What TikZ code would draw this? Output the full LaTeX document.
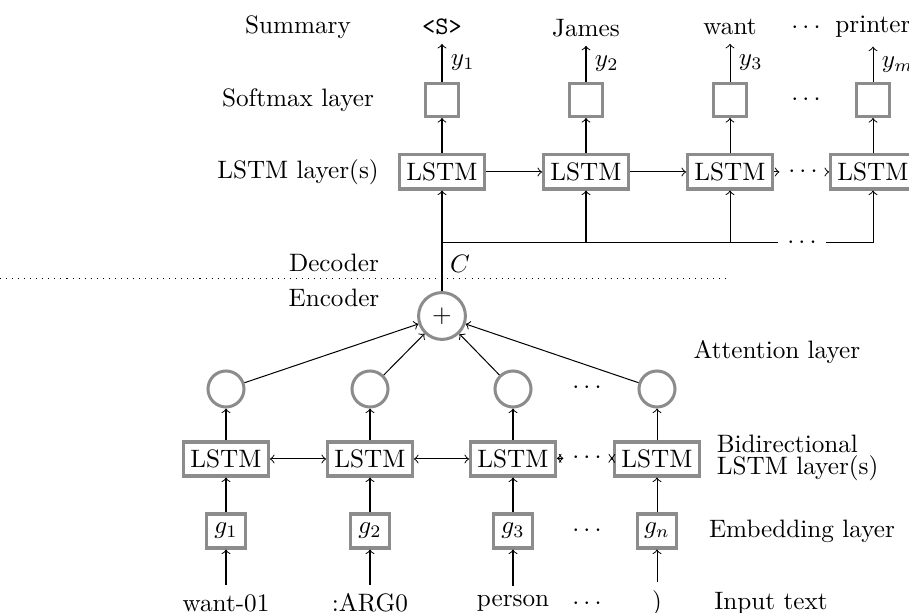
\documentclass[tikz,border=0pt]{standalone}
\begin{document}
\begin{tikzpicture}[x=0.397pt, y=-0.397pt,
  box/.style={draw=black!45, line width=1.2pt, inner sep=1pt},
  lstm/.style={box, minimum width=33.7pt, minimum height=13.5pt},
  smax/.style={box, minimum size=13.1pt},
  emb/.style={box, minimum width=15.5pt, minimum height=13.5pt},
  att/.style={circle, draw=black!45, line width=1.2pt, minimum size=14.3pt, inner sep=0pt},
  plusnode/.style={circle, draw=black!45, line width=1.2pt, minimum size=18.6pt, inner sep=0pt},
  conn/.style={->, line width=0.4pt},
  bi/.style={<->, line width=0.4pt},
  plain/.style={line width=0.4pt}
]
\useasboundingbox (0,0) rectangle (909,613);

% ---------- left labels ----------
\node (lsum) at (298,27) {Summary};
\node (lsm) at (298,100) {Softmax layer};
\node (llstm) at (298,172) {LSTM layer(s)};
\node (ldec) at (334,263) {Decoder};
\node (lenc) at (334,298) {Encoder};

% ---------- summary words ----------
\node (w1) at (442,27) {\texttt{<S>}};
\node (w2) at (586,28) {James};
\node (w3) at (730,27) {want};
\node (wd) at (806,28) {$\cdots$};
\node (w4) at (873,27) {printer};

% ---------- softmax ----------
\node[smax] (s1) at (442,100) {};
\node[smax] (s2) at (586,100) {};
\node[smax] (s3) at (730,100) {};
\node (sd) at (806,100) {$\cdots$};
\node[smax] (s4) at (873,100) {};

% ---------- decoder LSTM ----------
\node[lstm] (d1) at (442,172) {LSTM};
\node[lstm] (d2) at (586,172) {LSTM};
\node[lstm] (d3) at (730,172) {LSTM};
\node (dd) at (803,172) {$\cdots$};
\node[lstm] (d4) at (873,172) {LSTM};

\draw[conn] (d1) -- (s1);
\draw[conn] (d2) -- (s2);
\draw[conn] (d3) -- (s3);
\draw[conn] (d4) -- (s4);
\draw[conn] (s1) -- node[right] {$y_1$} (w1);
\draw[conn] (s2) -- node[right] {$y_2$} (w2);
\draw[conn] (s3) -- node[right] {$y_3$} (w3);
\draw[conn] (s4) -- node[right] {$y_m$} (w4);

\draw[conn] (d1) -- (d2);
\draw[conn] (d2) -- (d3);
\draw[conn] (d3) -- (dd);
\draw[conn] (dd) -- (d4);

% ---------- context distribution ----------
\coordinate (j1) at (442,243);
\coordinate (j2) at (586,243);
\coordinate (j3) at (730,243);
\coordinate (j4) at (873,243);
\node (hd) at (802,243) {$\cdots$};
\draw[plain] (j1) -- (hd);
\draw[plain] (hd) -- (j4);
\draw[conn] (j2) -- (d2);
\draw[conn] (j3) -- (d3);
\draw[conn] (j4) -- (d4);

\node (C) at (460,264) {$C$};
\coordinate (dl) at (0,279);
\coordinate (dr) at (728,279);
\draw[dotted] (dl) -- (dr);

\node[plusnode] (p) at (442,316) {$+$};
\draw[conn] (p) -- (d1);

% ---------- attention ----------
\node[att] (a1) at (226,389) {};
\node[att] (a2) at (370,389) {};
\node[att] (a3) at (513,389) {};
\node (ad) at (587,388) {$\cdots$};
\node[att] (a4) at (657,389) {};
\node (latt) at (777,352) {Attention layer};

\draw[conn] (a1) -- (p);
\draw[conn] (a2) -- (p);
\draw[conn] (a3) -- (p);
\draw[conn] (a4) -- (p);

% ---------- encoder LSTM ----------
\node[lstm] (e1) at (226,459) {LSTM};
\node[lstm] (e2) at (370,459) {LSTM};
\node[lstm] (e3) at (513,459) {LSTM};
\node (ed) at (587,458) {$\cdots$};
\node[lstm] (e4) at (657,459) {LSTM};
\node[align=left, anchor=west] (lbi) at (708,458) {Bidirectional\\[-3.3pt]LSTM layer(s)};

\draw[bi] (e1) -- (e2);
\draw[bi] (e2) -- (e3);
\draw[bi] (e3) -- (ed);
\draw[bi] (ed) -- (e4);
\draw[conn] (e1) -- (a1);
\draw[conn] (e2) -- (a2);
\draw[conn] (e3) -- (a3);
\draw[conn] (e4) -- (a4);

% ---------- embeddings ----------
\node[emb] (g1) at (226,531) {$g_1$};
\node[emb] (g2) at (370,531) {$g_2$};
\node[emb] (g3) at (513,531) {$g_3$};
\node (gd) at (587,531) {$\cdots$};
\node[emb] (g4) at (657,531) {$g_n$};
\node (lemb) at (802,531) {Embedding layer};

\draw[conn] (g1) -- (e1);
\draw[conn] (g2) -- (e2);
\draw[conn] (g3) -- (e3);
\draw[conn] (g4) -- (e4);

% ---------- input ----------
\node (i1) at (226,603) {want-01};
\node (i2) at (370,603) {:ARG0};
\node (i3) at (513,603) {person};
\node (id) at (587,604) {$\cdots$};
\node (i4) at (657,603) {)};
\node (lin) at (771,603) {Input text};

\draw[conn] (i1) -- (g1);
\draw[conn] (i2) -- (g2);
\draw[conn] (i3) -- (g3);
\draw[conn] (i4) -- (g4);
\end{tikzpicture}
\end{document}
